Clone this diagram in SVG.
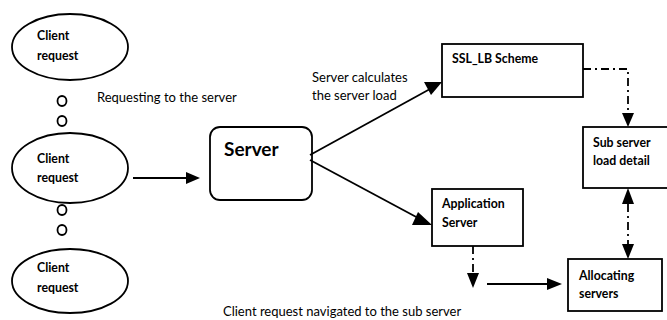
<svg xmlns="http://www.w3.org/2000/svg" width="667" height="320" viewBox="0 0 667 320">
  <defs>
    <style>
      .shape { fill: #ffffff; stroke: #000000; stroke-width: 1.8; }
      .dot { fill: none; stroke: #000000; stroke-width: 1.8; }
      .lbl { font-family: Lato, "Open Sans", "Liberation Sans", sans-serif; font-weight: bold; font-size: 12.3px; fill: #000000; }
      .big { font-size: 19px; }
      .note { font-family: Lato, "Open Sans", "Liberation Sans", sans-serif; font-size: 13px; fill: #000000; }
      .line { fill: none; stroke: #000000; stroke-width: 1.8; }
      .dashdot { fill: none; stroke: #000000; stroke-width: 1.8; stroke-dasharray: 8 4 2 4; }
      .head { fill: #000000; stroke: none; }
    </style>
  </defs>
  <rect width="667" height="320" fill="#ffffff"/>

  <!-- client requests -->
  <g id="client1">
    <ellipse class="shape" cx="70" cy="47" rx="58" ry="33"/>
    <text class="lbl" x="37" y="40">Client</text>
    <text class="lbl" x="37" y="60">request</text>
  </g>
  <g id="client2">
    <ellipse class="shape" cx="70" cy="168" rx="58" ry="35"/>
    <text class="lbl" x="37" y="163">Client</text>
    <text class="lbl" x="37" y="182">request</text>
  </g>
  <g id="client3">
    <ellipse class="shape" cx="70" cy="281" rx="58" ry="32"/>
    <text class="lbl" x="37" y="272">Client</text>
    <text class="lbl" x="37" y="292">request</text>
  </g>

  <!-- continuation marks between clients -->
  <g id="ellipsis">
    <ellipse class="dot" cx="62" cy="101" rx="4.5" ry="5"/>
    <ellipse class="dot" cx="62" cy="121" rx="4.5" ry="5"/>
    <ellipse class="dot" cx="62" cy="210" rx="4.5" ry="5"/>
    <ellipse class="dot" cx="62" cy="230" rx="4.5" ry="5"/>
  </g>

  <g id="server">
    <rect class="shape" x="210" y="127" width="102" height="73" rx="10" ry="10"/>
    <text class="lbl big" x="224" y="156">Server</text>
  </g>

  <g id="ssl-lb">
    <rect class="shape" x="442" y="44" width="141" height="53"/>
    <text class="lbl" x="452" y="63">SSL_LB Scheme</text>
  </g>

  <g id="sub-server">
    <rect class="shape" x="583" y="127" width="90" height="61"/>
    <text class="lbl" x="593" y="147">Sub server</text>
    <text class="lbl" x="593" y="165">load detail</text>
  </g>

  <g id="app-server">
    <rect class="shape" x="432" y="189" width="91" height="57"/>
    <text class="lbl" x="442" y="208">Application</text>
    <text class="lbl" x="442" y="227">Server</text>
  </g>

  <g id="allocating">
    <rect class="shape" x="568" y="259" width="94" height="52"/>
    <text class="lbl" x="579" y="280">Allocating</text>
    <text class="lbl" x="579" y="298">servers</text>
  </g>

  <!-- connectors -->
  <g id="connectors">
    <!-- client to server -->
    <line class="line" x1="133" y1="178" x2="188" y2="178"/>
    <polygon class="head" points="200,178 186,172 186,184"/>

    <!-- server to SSL_LB -->
    <line class="line" x1="310" y1="155" x2="430" y2="89"/>
    <polygon class="head" points="442,82 424,82 431,95"/>

    <!-- server to application server -->
    <line class="line" x1="310" y1="160" x2="420" y2="219"/>
    <polygon class="head" points="432,225 418,212 412,225"/>

    <!-- SSL_LB to sub server -->
    <polyline class="dashdot" points="583,69 628,69 628,114"/>
    <polygon class="head" points="628,127 622,113 634,113"/>

    <!-- sub server to allocating (both ways) -->
    <line class="dashdot" x1="628" y1="204" x2="628" y2="245"/>
    <polygon class="head" points="628,188 622,204 634,204"/>
    <polygon class="head" points="628,259 622,244 634,244"/>

    <!-- application server downwards -->
    <line class="dashdot" x1="473" y1="246" x2="473" y2="274"/>
    <polygon class="head" points="473,288 467,273 479,273"/>

    <!-- towards allocating servers -->
    <line class="line" x1="487" y1="284" x2="549" y2="284"/>
    <polygon class="head" points="562,284 547,278 547,290"/>
  </g>

  <!-- annotations -->
  <g id="labels">
    <text class="note" x="97" y="102">Requesting to the server</text>
    <text class="note" x="312" y="82">Server calculates</text>
    <text class="note" x="312" y="100">the server load</text>
    <text class="note" x="223" y="316">Client request navigated to the sub server</text>
  </g>
</svg>
